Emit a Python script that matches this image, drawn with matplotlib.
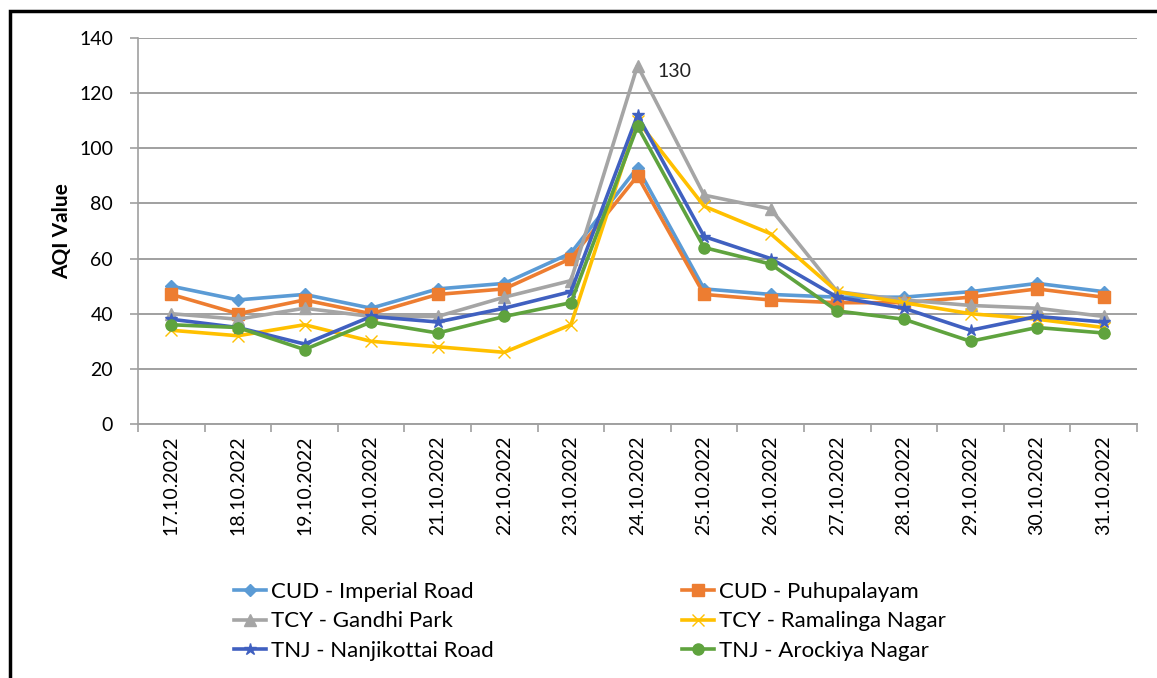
import matplotlib
matplotlib.use("Agg")
import matplotlib.pyplot as plt
from matplotlib.patches import Rectangle

dates = ["17.10.2022", "18.10.2022", "19.10.2022", "20.10.2022", "21.10.2022",
         "22.10.2022", "23.10.2022", "24.10.2022", "25.10.2022", "26.10.2022",
         "27.10.2022", "28.10.2022", "29.10.2022", "30.10.2022", "31.10.2022"]

cud_imperial = [50, 45, 47, 42, 49, 51, 62, 93, 49, 47, 46, 46, 48, 51, 48]
cud_puhupalayam = [47, 40, 45, 40, 47, 49, 60, 90, 47, 45, 44, 44, 46, 49, 46]
tcy_gandhi = [40, 38, 42, 39, 39, 46, 52, 130, 83, 78, 48, 45, 43, 42, 39]
tcy_ramalinga = [34, 32, 36, 30, 28, 26, 36, 110, 79, 69, 48, 44, 40, 38, 35]
tnj_nanjikottai = [38, 35, 29, 39, 37, 42, 48, 112, 68, 60, 46, 42, 34, 39, 37]
tnj_arockiya = [36, 35, 27, 37, 33, 39, 44, 108, 64, 58, 41, 38, 30, 35, 33]

series_names = ["CUD - Imperial Road", "CUD - Puhupalayam", "TCY - Gandhi Park",
                "TCY - Ramalinga Nagar", "TNJ - Nanjikottai Road", "TNJ - Arockiya Nagar"]
series_vals = [cud_imperial, cud_puhupalayam, tcy_gandhi, tcy_ramalinga,
               tnj_nanjikottai, tnj_arockiya]
colors = ["#5B9BD5", "#ED7D31", "#A5A5A5", "#FFC000", "#4060C0", "#5FA33E"]
markers = ["D", "s", "^", "x", "*", "o"]
msizes = [6, 8, 8, 9, 9, 8]

plt.rcParams['font.family'] = ['Lato', 'DejaVu Sans']

fig = plt.figure(figsize=(11.57, 6.78), dpi=100)
ax = fig.add_axes([138/1157, 1 - 424/678, (1137-138)/1157, (424-38)/678])

x = list(range(len(dates)))
handles = []
for name, vals, c, m, ms in zip(series_names, series_vals, colors, markers, msizes):
    if m in ("x", "*"):
        ln, = ax.plot(x, vals, color=c, lw=2.6, marker=m, ms=ms,
                      markeredgewidth=1.0, label=name, zorder=3)
    else:
        ln, = ax.plot(x, vals, color=c, lw=2.6, marker=m, ms=ms,
                      markeredgecolor=c, label=name, zorder=3)
    handles.append(ln)

ax.annotate("130", xy=(7, 130), xytext=(7.3, 128), fontsize=14,
            va="center", ha="left", color="#222222")

ax.set_xlim(-0.5, len(dates) - 0.5)
ax.set_ylim(0, 140)
ax.set_yticks(range(0, 141, 20))
ax.set_xticks(x)
ax.set_xticklabels(dates, rotation=90, fontsize=14)
ax.set_xticks([i - 0.5 for i in range(len(dates) + 1)], minor=True)
ax.tick_params(axis='x', which='major', length=0, pad=8)
ax.tick_params(axis='x', which='minor', length=6, color="#A0A0A0", width=1.2)
ax.tick_params(axis='y', labelsize=14, length=6, color="#A0A0A0", width=1.2, pad=12)
ax.yaxis.grid(True, color="#A0A0A0", lw=1.4)
ax.set_axisbelow(True)
for s in ["top", "right"]:
    ax.spines[s].set_visible(False)
ax.spines["left"].set_color("#A0A0A0")
ax.spines["left"].set_linewidth(1.2)
ax.spines["bottom"].set_color("#A0A0A0")
ax.spines["bottom"].set_linewidth(1.4)

ax.set_ylabel("AQI Value", fontsize=15, fontweight="bold", labelpad=5)

left_idx = [0, 2, 4]
right_idx = [1, 3, 5]
leg1 = fig.legend([handles[i] for i in left_idx], [series_names[i] for i in left_idx],
                  loc="upper left", bbox_to_anchor=(214/1157, 1 - 562/678),
                  frameon=False, fontsize=16, handlelength=1.45,
                  labelspacing=0.42, handletextpad=0.2)
leg2 = fig.legend([handles[i] for i in right_idx], [series_names[i] for i in right_idx],
                  loc="upper left", bbox_to_anchor=(662/1157, 1 - 562/678),
                  frameon=False, fontsize=16, handlelength=1.45,
                  labelspacing=0.42, handletextpad=0.2)

fig.patches.append(Rectangle((10/1157, -0.05), 1.2, 1.05 - 11/678, transform=fig.transFigure,
                             fill=False, edgecolor="black", lw=2.5))

fig.savefig("out.png", dpi=100)
